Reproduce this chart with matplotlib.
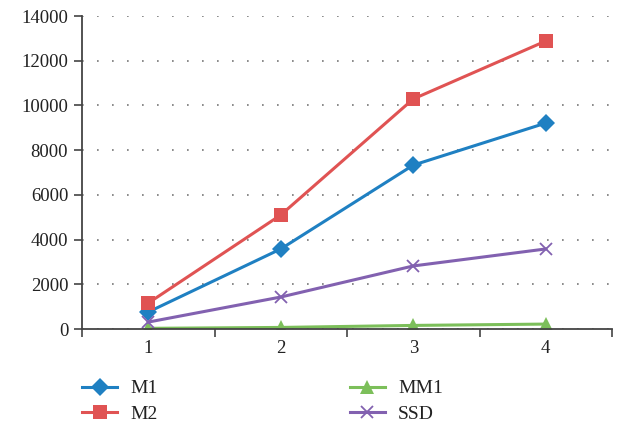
import matplotlib
matplotlib.use("Agg")
import matplotlib.pyplot as plt
from matplotlib.ticker import FixedLocator

categories = [1, 2, 3, 4]
m1 = [760, 3580, 7330, 9210]
m2 = [1160, 5100, 10290, 12880]
mm1 = [30, 70, 160, 220]
ssd = [310, 1430, 2820, 3580]
y_ticks = [0, 2000, 4000, 6000, 8000, 10000, 12000, 14000]

plt.rcParams['font.family'] = ['Liberation Serif', 'DejaVu Serif']

fig = plt.figure(figsize=(6.19, 4.29), dpi=100)
ax = fig.add_axes([0.1325, 0.2331, 0.8562, 0.7296])

series = [
    ("M1", m1, "#1f80c2", "D", 9),
    ("M2", m2, "#e05353", "s", 9.5),
    ("MM1", mm1, "#7cbf5a", "^", 9.5),
    ("SSD", ssd, "#8261b0", "x", 8),
]
for name, vals, color, marker, ms in series:
    ax.plot(categories, vals, color=color, lw=2.2, marker=marker, ms=ms,
            mew=1.3 if marker == "x" else 0, mec=color, label=name)

ax.set_xlim(0.5, 4.5)
ax.set_ylim(0, 14000)
ax.set_yticks(y_ticks)
ax.set_xticks(categories)
ax.xaxis.set_minor_locator(FixedLocator([0.5, 1.5, 2.5, 3.5, 4.5]))
ax.tick_params(axis='x', which='major', length=0, labelsize=13.5, pad=8, colors='#222222')
ax.tick_params(axis='x', which='minor', length=6, width=1.2, color='#444444', direction='out')
ax.tick_params(axis='y', length=6, width=1.2, color='#444444', labelsize=13.5, pad=4, labelcolor='#222222')

ax.grid(axis='y', linestyle=(0, (1, 8)), color='#777777', lw=1.2)
ax.set_axisbelow(True)
for s in ['top', 'right']:
    ax.spines[s].set_visible(False)
for s in ['left', 'bottom']:
    ax.spines[s].set_color('#444444')
    ax.spines[s].set_linewidth(1.3)

leg = fig.legend(loc='center left', bbox_to_anchor=(0.1325, 0.064), ncol=2, frameon=False,
                 fontsize=14, columnspacing=9.9, handlelength=1.8, handletextpad=0.67,
                 labelspacing=0.42, borderpad=0, borderaxespad=0)
for t in leg.get_texts():
    t.set_color('#222222')

fig.savefig("out.png", dpi=100)
